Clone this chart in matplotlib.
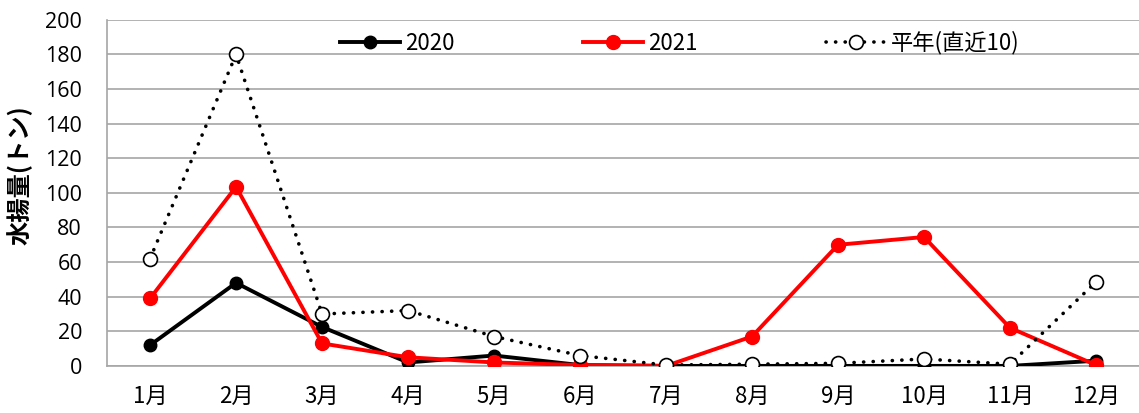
import matplotlib
matplotlib.use("Agg")
import matplotlib.pyplot as plt

months = ["1月", "2月", "3月", "4月", "5月", "6月", "7月", "8月", "9月", "10月", "11月", "12月"]
catch_2020 = [12, 48, 22.5, 2, 6, 0.5, 0, 0, 0, 0, 0, 3]
catch_2021 = [39, 103.5, 13, 5, 2, 0.5, 0, 17, 70, 74.5, 22, 0.5]
catch_avg = [62, 180, 30, 32, 17, 6, 0.5, 1, 1.5, 4, 1, 48.5]
yticks = list(range(0, 201, 20))

jp = ["Noto Sans CJK JP", "DejaVu Sans"]

fig = plt.figure(figsize=(11.39, 4.13), dpi=100)
ax = fig.add_axes([0.094, 0.114, 0.906, 0.838])

x = list(range(len(months)))
ax.plot(x, catch_2020, color="black", lw=2.8, marker="o", ms=9,
        markerfacecolor="black", markeredgecolor="black", label="2020", zorder=3)
ax.plot(x, catch_2021, color="#ff0000", lw=2.8, marker="o", ms=10,
        markerfacecolor="#ff0000", markeredgecolor="#ff0000", label="2021", zorder=4)
ax.plot(x, catch_avg, color="black", lw=2.6, linestyle=(0, (0.05, 2.6)),
        dash_capstyle="round", marker="o", ms=10, markerfacecolor="white",
        markeredgecolor="black", markeredgewidth=1.2, label="平年(直近10)", zorder=5)

ax.set_xlim(-0.5, 11.5)
ax.set_ylim(0, 200)
ax.set_yticks(yticks)
ax.set_yticklabels([str(v) for v in yticks], fontsize=15.5, family="Open Sans")
ax.set_xticks(x)
ax.set_xticklabels(months, fontsize=16, family=jp)
ax.tick_params(axis="both", length=0)
ax.tick_params(axis="y", pad=18)
ax.tick_params(axis="x", pad=14)

ax.grid(axis="y", color="#a6a6a6", lw=1.2)
ax.set_axisbelow(True)
for side in ["top", "right"]:
    ax.spines[side].set_visible(False)
ax.spines["left"].set_color("#a6a6a6")
ax.spines["bottom"].set_color("#a6a6a6")
ax.spines["left"].set_linewidth(1.2)
ax.spines["bottom"].set_linewidth(1.2)

ax.set_ylabel("水揚量(トン)", fontsize=17.5, fontweight="bold", family=jp)
ax.yaxis.set_label_coords(-0.072, 0.55)

leg = ax.legend(loc="upper center", bbox_to_anchor=(0.555, 1.025), ncol=3, frameon=False,
                columnspacing=5.8, handlelength=2.7, handletextpad=0.2,
                prop={"family": jp, "size": 16})

fig.savefig("out.png", dpi=100, facecolor="white")
